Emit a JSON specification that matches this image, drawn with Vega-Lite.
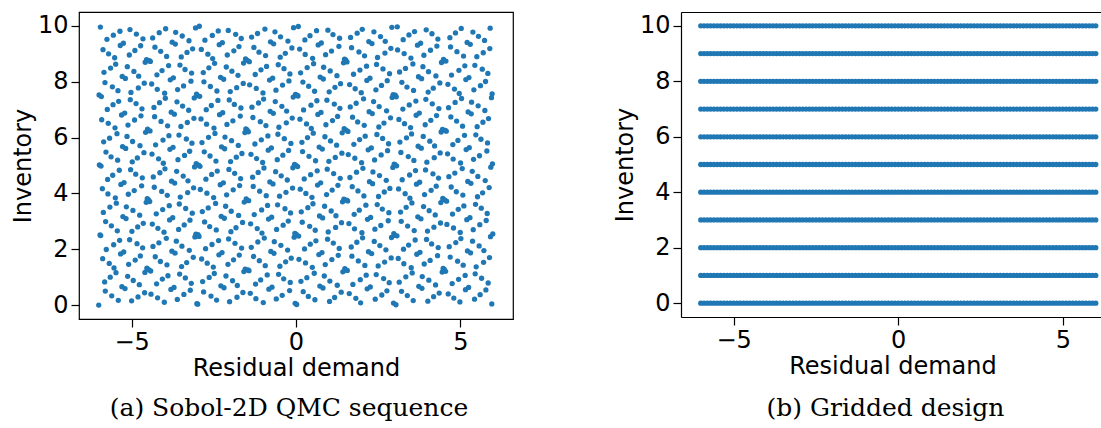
{
"$schema":"https://vega.github.io/schema/vega-lite/v6.json",
"background":"white",
"padding":{"left":10,"top":11,"right":0,"bottom":0},
"spacing":99,
"config":{
"view":{"stroke":"#000","strokeWidth":1.2},
"axis":{"grid":false,"domain":false,"ticks":true,"tickColor":"#000","tickWidth":1.2,"tickSize":8,"labelFont":"DejaVu Sans","labelFontSize":24,"labelColor":"#000","labelPadding":3,"titleFont":"DejaVu Sans","titleFontSize":24,"titleFontWeight":"normal","titleColor":"#000","titlePadding":2},
"title":{"font":"DejaVu Serif","fontSize":25,"fontWeight":"normal","color":"#000","orient":"bottom","anchor":"middle","frame":"group","baseline":"alphabetic","offset":16,"dx":-7}
},
"datasets":{
"sobol":[
{"x":-6,"y":0},{"x":-5.99,"y":7.53},{"x":-5.98,"y":5.02},{"x":-5.96,"y":2.51},{"x":-5.95,"y":9.96},{"x":-5.94,"y":2.49},{"x":-5.93,"y":4.98},{"x":-5.92,"y":7.47},{"x":-5.91,"y":6.64},{"x":-5.89,"y":4.17},{"x":-5.88,"y":1.66},{"x":-5.87,"y":9.15},{"x":-5.86,"y":3.32},{"x":-5.85,"y":5.85},{"x":-5.84,"y":8.34},{"x":-5.82,"y":0.83},{"x":-5.81,"y":7.97},{"x":-5.8,"y":0.5},{"x":-5.79,"y":2.99},{"x":-5.78,"y":5.48},{"x":-5.77,"y":1.99},{"x":-5.75,"y":9.52},{"x":-5.74,"y":7.01},{"x":-5.73,"y":4.5},{"x":-5.72,"y":3.98},{"x":-5.71,"y":6.51},{"x":-5.7,"y":9},{"x":-5.68,"y":1.49},{"x":-5.67,"y":5.98},{"x":-5.66,"y":3.51},{"x":-5.65,"y":1},{"x":-5.64,"y":8.49},
{"x":-5.625,"y":5.31},{"x":-5.615,"y":2.84},{"x":-5.605,"y":0.33},{"x":-5.585,"y":7.82},{"x":-5.575,"y":4.65},{"x":-5.565,"y":7.18},{"x":-5.555,"y":9.67},{"x":-5.545,"y":2.16},{"x":-5.535,"y":1.33},{"x":-5.515,"y":8.86},{"x":-5.505,"y":6.35},{"x":-5.495,"y":3.84},{"x":-5.485,"y":8.63},{"x":-5.475,"y":1.16},{"x":-5.465,"y":3.65},{"x":-5.445,"y":6.14},{"x":-5.435,"y":2.66},{"x":-5.425,"y":5.19},{"x":-5.415,"y":7.68},{"x":-5.405,"y":0.17},{"x":-5.395,"y":7.3},{"x":-5.375,"y":4.83},{"x":-5.365,"y":2.32},{"x":-5.355,"y":9.81},{"x":-5.345,"y":9.3},{"x":-5.335,"y":1.83},{"x":-5.325,"y":4.32},{"x":-5.305,"y":6.81},{"x":-5.295,"y":0.66},{"x":-5.285,"y":8.19},{"x":-5.275,"y":5.68},{"x":-5.265,"y":3.17},
{"x":-5.25,"y":9.38},{"x":-5.24,"y":1.9},{"x":-5.23,"y":4.39},{"x":-5.21,"y":6.88},{"x":-5.2,"y":0.59},{"x":-5.19,"y":8.12},{"x":-5.18,"y":5.61},{"x":-5.17,"y":3.1},{"x":-5.16,"y":3.52},{"x":-5.14,"y":6.04},{"x":-5.13,"y":8.54},{"x":-5.12,"y":1.03},{"x":-5.11,"y":6.45},{"x":-5.1,"y":3.97},{"x":-5.09,"y":1.46},{"x":-5.07,"y":8.96},{"x":-5.06,"y":2.34},{"x":-5.05,"y":9.87},{"x":-5.04,"y":7.36},{"x":-5.03,"y":4.85},{"x":-5.02,"y":7.62},{"x":-5,"y":0.15},{"x":-4.99,"y":2.64},{"x":-4.98,"y":5.13},{"x":-4.97,"y":5.86},{"x":-4.96,"y":3.39},{"x":-4.95,"y":0.88},{"x":-4.93,"y":8.37},{"x":-4.92,"y":4.1},{"x":-4.91,"y":6.63},{"x":-4.9,"y":9.12},{"x":-4.89,"y":1.61},
{"x":-4.875,"y":4.69},{"x":-4.865,"y":7.22},{"x":-4.855,"y":9.71},{"x":-4.835,"y":2.2},{"x":-4.825,"y":5.27},{"x":-4.815,"y":2.8},{"x":-4.805,"y":0.29},{"x":-4.795,"y":7.78},{"x":-4.785,"y":8.2},{"x":-4.765,"y":0.73},{"x":-4.755,"y":3.22},{"x":-4.745,"y":5.71},{"x":-4.735,"y":1.76},{"x":-4.725,"y":9.29},{"x":-4.715,"y":6.78},{"x":-4.695,"y":4.27},{"x":-4.685,"y":7.03},{"x":-4.675,"y":4.56},{"x":-4.665,"y":2.05},{"x":-4.655,"y":9.54},{"x":-4.645,"y":2.93},{"x":-4.625,"y":5.46},{"x":-4.615,"y":7.95},{"x":-4.605,"y":0.44},{"x":-4.595,"y":1.17},{"x":-4.585,"y":8.7},{"x":-4.575,"y":6.19},{"x":-4.555,"y":3.68},{"x":-4.545,"y":8.79},{"x":-4.535,"y":1.32},{"x":-4.525,"y":3.81},{"x":-4.515,"y":6.3},
{"x":-4.5,"y":6.25},{"x":-4.49,"y":3.78},{"x":-4.48,"y":1.27},{"x":-4.46,"y":8.76},{"x":-4.45,"y":3.71},{"x":-4.44,"y":6.24},{"x":-4.43,"y":8.73},{"x":-4.42,"y":1.22},{"x":-4.41,"y":0.39},{"x":-4.39,"y":7.92},{"x":-4.38,"y":5.41},{"x":-4.37,"y":2.9},{"x":-4.36,"y":9.57},{"x":-4.35,"y":2.1},{"x":-4.34,"y":4.59},{"x":-4.32,"y":7.08},{"x":-4.31,"y":4.22},{"x":-4.3,"y":6.75},{"x":-4.29,"y":9.24},{"x":-4.28,"y":1.73},{"x":-4.27,"y":5.74},{"x":-4.25,"y":3.27},{"x":-4.24,"y":0.76},{"x":-4.23,"y":8.25},{"x":-4.22,"y":7.73},{"x":-4.21,"y":0.26},{"x":-4.2,"y":2.75},{"x":-4.18,"y":5.24},{"x":-4.17,"y":2.23},{"x":-4.16,"y":9.76},{"x":-4.15,"y":7.25},{"x":-4.14,"y":4.74},
{"x":-4.125,"y":1.56},{"x":-4.115,"y":9.09},{"x":-4.105,"y":6.58},{"x":-4.085,"y":4.07},{"x":-4.075,"y":8.4},{"x":-4.065,"y":0.93},{"x":-4.055,"y":3.42},{"x":-4.045,"y":5.91},{"x":-4.035,"y":5.08},{"x":-4.015,"y":2.61},{"x":-4.005,"y":0.1},{"x":-3.995,"y":7.59},{"x":-3.985,"y":4.88},{"x":-3.975,"y":7.41},{"x":-3.965,"y":9.9},{"x":-3.945,"y":2.39},{"x":-3.935,"y":8.91},{"x":-3.925,"y":1.44},{"x":-3.915,"y":3.93},{"x":-3.905,"y":6.42},{"x":-3.895,"y":1.05},{"x":-3.875,"y":8.58},{"x":-3.865,"y":6.07},{"x":-3.855,"y":3.56},{"x":-3.845,"y":3.05},{"x":-3.835,"y":5.58},{"x":-3.825,"y":8.07},{"x":-3.805,"y":0.56},{"x":-3.795,"y":6.91},{"x":-3.785,"y":4.44},{"x":-3.775,"y":1.93},{"x":-3.765,"y":9.42},
{"x":-3.75,"y":3.13},{"x":-3.74,"y":5.65},{"x":-3.73,"y":8.14},{"x":-3.71,"y":0.63},{"x":-3.7,"y":6.84},{"x":-3.69,"y":4.37},{"x":-3.68,"y":1.86},{"x":-3.67,"y":9.35},{"x":-3.66,"y":9.77},{"x":-3.64,"y":2.29},{"x":-3.63,"y":4.79},{"x":-3.62,"y":7.28},{"x":-3.61,"y":0.2},{"x":-3.6,"y":7.72},{"x":-3.59,"y":5.21},{"x":-3.57,"y":2.71},{"x":-3.56,"y":6.09},{"x":-3.55,"y":3.62},{"x":-3.54,"y":1.11},{"x":-3.53,"y":8.6},{"x":-3.52,"y":3.87},{"x":-3.5,"y":6.4},{"x":-3.49,"y":8.89},{"x":-3.48,"y":1.38},{"x":-3.47,"y":2.11},{"x":-3.46,"y":9.64},{"x":-3.45,"y":7.13},{"x":-3.43,"y":4.62},{"x":-3.42,"y":7.85},{"x":-3.41,"y":0.38},{"x":-3.4,"y":2.87},{"x":-3.39,"y":5.36},
{"x":-3.375,"y":8.44},{"x":-3.365,"y":0.97},{"x":-3.355,"y":3.46},{"x":-3.335,"y":5.95},{"x":-3.325,"y":1.52},{"x":-3.315,"y":9.05},{"x":-3.305,"y":6.54},{"x":-3.295,"y":4.03},{"x":-3.285,"y":4.45},{"x":-3.265,"y":6.98},{"x":-3.255,"y":9.47},{"x":-3.245,"y":1.96},{"x":-3.235,"y":5.51},{"x":-3.225,"y":3.04},{"x":-3.215,"y":0.53},{"x":-3.195,"y":8.02},{"x":-3.185,"y":0.78},{"x":-3.175,"y":8.31},{"x":-3.165,"y":5.8},{"x":-3.155,"y":3.29},{"x":-3.145,"y":9.18},{"x":-3.125,"y":1.71},{"x":-3.115,"y":4.2},{"x":-3.105,"y":6.69},{"x":-3.095,"y":7.42},{"x":-3.085,"y":4.95},{"x":-3.075,"y":2.44},{"x":-3.055,"y":9.93},{"x":-3.045,"y":2.54},{"x":-3.035,"y":5.07},{"x":-3.025,"y":7.56},{"x":-3.015,"y":0.05},
{"x":-3,"y":7.5},{"x":-2.99,"y":0.03},{"x":-2.98,"y":2.52},{"x":-2.96,"y":5.01},{"x":-2.95,"y":2.46},{"x":-2.94,"y":9.99},{"x":-2.93,"y":7.48},{"x":-2.92,"y":4.97},{"x":-2.91,"y":4.14},{"x":-2.89,"y":6.67},{"x":-2.88,"y":9.16},{"x":-2.87,"y":1.65},{"x":-2.86,"y":5.82},{"x":-2.85,"y":3.35},{"x":-2.84,"y":0.84},{"x":-2.82,"y":8.33},{"x":-2.81,"y":0.47},{"x":-2.8,"y":8},{"x":-2.79,"y":5.49},{"x":-2.78,"y":2.98},{"x":-2.77,"y":9.49},{"x":-2.75,"y":2.02},{"x":-2.74,"y":4.51},{"x":-2.73,"y":7},{"x":-2.72,"y":6.48},{"x":-2.71,"y":4.01},{"x":-2.7,"y":1.5},{"x":-2.68,"y":8.99},{"x":-2.67,"y":3.48},{"x":-2.66,"y":6.01},{"x":-2.65,"y":8.5},{"x":-2.64,"y":0.99},
{"x":-2.625,"y":2.81},{"x":-2.615,"y":5.34},{"x":-2.605,"y":7.83},{"x":-2.585,"y":0.32},{"x":-2.575,"y":7.15},{"x":-2.565,"y":4.68},{"x":-2.555,"y":2.17},{"x":-2.545,"y":9.66},{"x":-2.535,"y":8.83},{"x":-2.515,"y":1.36},{"x":-2.505,"y":3.85},{"x":-2.495,"y":6.34},{"x":-2.485,"y":1.13},{"x":-2.475,"y":8.66},{"x":-2.465,"y":6.15},{"x":-2.445,"y":3.64},{"x":-2.435,"y":5.16},{"x":-2.425,"y":2.69},{"x":-2.415,"y":0.18},{"x":-2.405,"y":7.67},{"x":-2.395,"y":4.8},{"x":-2.375,"y":7.33},{"x":-2.365,"y":9.82},{"x":-2.355,"y":2.31},{"x":-2.345,"y":1.8},{"x":-2.335,"y":9.33},{"x":-2.325,"y":6.82},{"x":-2.305,"y":4.31},{"x":-2.295,"y":8.16},{"x":-2.285,"y":0.69},{"x":-2.275,"y":3.18},{"x":-2.265,"y":5.67},
{"x":-2.25,"y":1.88},{"x":-2.24,"y":9.4},{"x":-2.23,"y":6.89},{"x":-2.21,"y":4.38},{"x":-2.2,"y":8.09},{"x":-2.19,"y":0.62},{"x":-2.18,"y":3.11},{"x":-2.17,"y":5.6},{"x":-2.16,"y":6.02},{"x":-2.14,"y":3.54},{"x":-2.13,"y":1.04},{"x":-2.12,"y":8.53},{"x":-2.11,"y":3.95},{"x":-2.1,"y":6.47},{"x":-2.09,"y":8.96},{"x":-2.07,"y":1.46},{"x":-2.06,"y":9.84},{"x":-2.05,"y":2.37},{"x":-2.04,"y":4.86},{"x":-2.03,"y":7.35},{"x":-2.02,"y":0.12},{"x":-2,"y":7.65},{"x":-1.99,"y":5.14},{"x":-1.98,"y":2.63},{"x":-1.97,"y":3.36},{"x":-1.96,"y":5.89},{"x":-1.95,"y":8.38},{"x":-1.93,"y":0.87},{"x":-1.92,"y":6.6},{"x":-1.91,"y":4.13},{"x":-1.9,"y":1.62},{"x":-1.89,"y":9.11},
{"x":-1.875,"y":7.19},{"x":-1.865,"y":4.72},{"x":-1.855,"y":2.21},{"x":-1.835,"y":9.7},{"x":-1.825,"y":2.77},{"x":-1.815,"y":5.3},{"x":-1.805,"y":7.79},{"x":-1.795,"y":0.28},{"x":-1.785,"y":0.7},{"x":-1.765,"y":8.23},{"x":-1.755,"y":5.72},{"x":-1.745,"y":3.21},{"x":-1.735,"y":9.26},{"x":-1.725,"y":1.79},{"x":-1.715,"y":4.28},{"x":-1.695,"y":6.77},{"x":-1.685,"y":4.53},{"x":-1.675,"y":7.06},{"x":-1.665,"y":9.55},{"x":-1.655,"y":2.04},{"x":-1.645,"y":5.43},{"x":-1.625,"y":2.96},{"x":-1.615,"y":0.45},{"x":-1.605,"y":7.94},{"x":-1.595,"y":8.67},{"x":-1.585,"y":1.2},{"x":-1.575,"y":3.69},{"x":-1.555,"y":6.18},{"x":-1.545,"y":1.29},{"x":-1.535,"y":8.82},{"x":-1.525,"y":6.31},{"x":-1.515,"y":3.8},
{"x":-1.5,"y":3.75},{"x":-1.49,"y":6.28},{"x":-1.48,"y":8.77},{"x":-1.46,"y":1.26},{"x":-1.45,"y":6.21},{"x":-1.44,"y":3.74},{"x":-1.43,"y":1.23},{"x":-1.42,"y":8.72},{"x":-1.41,"y":7.89},{"x":-1.39,"y":0.42},{"x":-1.38,"y":2.91},{"x":-1.37,"y":5.4},{"x":-1.36,"y":2.07},{"x":-1.35,"y":9.6},{"x":-1.34,"y":7.09},{"x":-1.32,"y":4.58},{"x":-1.31,"y":6.72},{"x":-1.3,"y":4.25},{"x":-1.29,"y":1.74},{"x":-1.28,"y":9.23},{"x":-1.27,"y":3.24},{"x":-1.25,"y":5.77},{"x":-1.24,"y":8.26},{"x":-1.23,"y":0.75},{"x":-1.22,"y":0.23},{"x":-1.21,"y":7.76},{"x":-1.2,"y":5.25},{"x":-1.18,"y":2.74},{"x":-1.17,"y":9.73},{"x":-1.16,"y":2.26},{"x":-1.15,"y":4.75},{"x":-1.14,"y":7.24},
{"x":-1.125,"y":9.06},{"x":-1.115,"y":1.59},{"x":-1.105,"y":4.08},{"x":-1.085,"y":6.57},{"x":-1.075,"y":0.9},{"x":-1.065,"y":8.43},{"x":-1.055,"y":5.92},{"x":-1.045,"y":3.41},{"x":-1.035,"y":2.58},{"x":-1.015,"y":5.11},{"x":-1.005,"y":7.6},{"x":-0.995,"y":0.09},{"x":-0.985,"y":7.38},{"x":-0.975,"y":4.91},{"x":-0.965,"y":2.4},{"x":-0.945,"y":9.89},{"x":-0.935,"y":1.41},{"x":-0.925,"y":8.94},{"x":-0.915,"y":6.43},{"x":-0.905,"y":3.92},{"x":-0.895,"y":8.55},{"x":-0.875,"y":1.08},{"x":-0.865,"y":3.57},{"x":-0.855,"y":6.06},{"x":-0.845,"y":5.55},{"x":-0.835,"y":3.08},{"x":-0.825,"y":0.57},{"x":-0.805,"y":8.06},{"x":-0.795,"y":4.41},{"x":-0.785,"y":6.94},{"x":-0.775,"y":9.43},{"x":-0.765,"y":1.92},
{"x":-0.75,"y":5.63},{"x":-0.74,"y":3.15},{"x":-0.73,"y":0.64},{"x":-0.71,"y":8.13},{"x":-0.7,"y":4.34},{"x":-0.69,"y":6.87},{"x":-0.68,"y":9.36},{"x":-0.67,"y":1.85},{"x":-0.66,"y":2.27},{"x":-0.64,"y":9.79},{"x":-0.63,"y":7.29},{"x":-0.62,"y":4.78},{"x":-0.61,"y":7.7},{"x":-0.6,"y":0.22},{"x":-0.59,"y":2.71},{"x":-0.57,"y":5.21},{"x":-0.56,"y":3.59},{"x":-0.55,"y":6.12},{"x":-0.54,"y":8.61},{"x":-0.53,"y":1.1},{"x":-0.52,"y":6.37},{"x":-0.5,"y":3.9},{"x":-0.49,"y":1.39},{"x":-0.48,"y":8.88},{"x":-0.47,"y":9.61},{"x":-0.46,"y":2.14},{"x":-0.45,"y":4.63},{"x":-0.43,"y":7.12},{"x":-0.42,"y":0.35},{"x":-0.41,"y":7.88},{"x":-0.4,"y":5.37},{"x":-0.39,"y":2.86},
{"x":-0.375,"y":0.94},{"x":-0.365,"y":8.47},{"x":-0.355,"y":5.96},{"x":-0.335,"y":3.45},{"x":-0.325,"y":9.02},{"x":-0.315,"y":1.55},{"x":-0.305,"y":4.04},{"x":-0.295,"y":6.53},{"x":-0.285,"y":6.95},{"x":-0.265,"y":4.48},{"x":-0.255,"y":1.97},{"x":-0.245,"y":9.46},{"x":-0.235,"y":3.01},{"x":-0.225,"y":5.54},{"x":-0.215,"y":8.03},{"x":-0.195,"y":0.52},{"x":-0.185,"y":8.28},{"x":-0.175,"y":0.81},{"x":-0.165,"y":3.3},{"x":-0.155,"y":5.79},{"x":-0.145,"y":1.68},{"x":-0.125,"y":9.21},{"x":-0.115,"y":6.7},{"x":-0.105,"y":4.19},{"x":-0.095,"y":4.92},{"x":-0.085,"y":7.45},{"x":-0.075,"y":9.94},{"x":-0.055,"y":2.43},{"x":-0.045,"y":5.04},{"x":-0.035,"y":2.57},{"x":-0.025,"y":0.06},{"x":-0.015,"y":7.55},
{"x":0,"y":5},{"x":0.01,"y":2.53},{"x":0.02,"y":0.02},{"x":0.04,"y":7.51},{"x":0.05,"y":4.96},{"x":0.06,"y":7.49},{"x":0.07,"y":9.98},{"x":0.08,"y":2.47},{"x":0.09,"y":1.64},{"x":0.11,"y":9.17},{"x":0.12,"y":6.66},{"x":0.13,"y":4.15},{"x":0.14,"y":8.32},{"x":0.15,"y":0.85},{"x":0.16,"y":3.34},{"x":0.18,"y":5.83},{"x":0.19,"y":2.97},{"x":0.2,"y":5.5},{"x":0.21,"y":7.99},{"x":0.22,"y":0.48},{"x":0.23,"y":6.99},{"x":0.25,"y":4.52},{"x":0.26,"y":2.01},{"x":0.27,"y":9.5},{"x":0.28,"y":8.98},{"x":0.29,"y":1.51},{"x":0.3,"y":4},{"x":0.32,"y":6.49},{"x":0.33,"y":0.98},{"x":0.34,"y":8.51},{"x":0.35,"y":6},{"x":0.36,"y":3.49},
{"x":0.375,"y":0.31},{"x":0.385,"y":7.84},{"x":0.395,"y":5.33},{"x":0.415,"y":2.82},{"x":0.425,"y":9.65},{"x":0.435,"y":2.18},{"x":0.445,"y":4.67},{"x":0.455,"y":7.16},{"x":0.465,"y":6.33},{"x":0.485,"y":3.86},{"x":0.495,"y":1.35},{"x":0.505,"y":8.84},{"x":0.515,"y":3.63},{"x":0.525,"y":6.16},{"x":0.535,"y":8.65},{"x":0.555,"y":1.14},{"x":0.565,"y":7.66},{"x":0.575,"y":0.19},{"x":0.585,"y":2.68},{"x":0.595,"y":5.17},{"x":0.605,"y":2.3},{"x":0.625,"y":9.83},{"x":0.635,"y":7.32},{"x":0.645,"y":4.81},{"x":0.655,"y":4.3},{"x":0.665,"y":6.83},{"x":0.675,"y":9.32},{"x":0.695,"y":1.81},{"x":0.705,"y":5.66},{"x":0.715,"y":3.19},{"x":0.725,"y":0.68},{"x":0.735,"y":8.17},
{"x":0.75,"y":4.38},{"x":0.76,"y":6.9},{"x":0.77,"y":9.39},{"x":0.79,"y":1.88},{"x":0.8,"y":5.59},{"x":0.81,"y":3.12},{"x":0.82,"y":0.61},{"x":0.83,"y":8.1},{"x":0.84,"y":8.52},{"x":0.86,"y":1.04},{"x":0.87,"y":3.54},{"x":0.88,"y":6.03},{"x":0.89,"y":1.45},{"x":0.9,"y":8.97},{"x":0.91,"y":6.46},{"x":0.93,"y":3.96},{"x":0.94,"y":7.34},{"x":0.95,"y":4.87},{"x":0.96,"y":2.36},{"x":0.97,"y":9.85},{"x":0.98,"y":2.62},{"x":1,"y":5.15},{"x":1.01,"y":7.64},{"x":1.02,"y":0.13},{"x":1.03,"y":0.86},{"x":1.04,"y":8.39},{"x":1.05,"y":5.88},{"x":1.07,"y":3.37},{"x":1.08,"y":9.1},{"x":1.09,"y":1.63},{"x":1.1,"y":4.12},{"x":1.11,"y":6.61},
{"x":1.125,"y":9.69},{"x":1.135,"y":2.22},{"x":1.145,"y":4.71},{"x":1.165,"y":7.2},{"x":1.175,"y":0.27},{"x":1.185,"y":7.8},{"x":1.195,"y":5.29},{"x":1.205,"y":2.78},{"x":1.215,"y":3.2},{"x":1.235,"y":5.73},{"x":1.245,"y":8.22},{"x":1.255,"y":0.71},{"x":1.265,"y":6.76},{"x":1.275,"y":4.29},{"x":1.285,"y":1.78},{"x":1.305,"y":9.27},{"x":1.315,"y":2.03},{"x":1.325,"y":9.56},{"x":1.335,"y":7.05},{"x":1.345,"y":4.54},{"x":1.355,"y":7.93},{"x":1.375,"y":0.46},{"x":1.385,"y":2.95},{"x":1.395,"y":5.44},{"x":1.405,"y":6.17},{"x":1.415,"y":3.7},{"x":1.425,"y":1.19},{"x":1.445,"y":8.68},{"x":1.455,"y":3.79},{"x":1.465,"y":6.32},{"x":1.475,"y":8.81},{"x":1.485,"y":1.3},
{"x":1.5,"y":1.25},{"x":1.51,"y":8.78},{"x":1.52,"y":6.27},{"x":1.54,"y":3.76},{"x":1.55,"y":8.71},{"x":1.56,"y":1.24},{"x":1.57,"y":3.73},{"x":1.58,"y":6.22},{"x":1.59,"y":5.39},{"x":1.61,"y":2.92},{"x":1.62,"y":0.41},{"x":1.63,"y":7.9},{"x":1.64,"y":4.57},{"x":1.65,"y":7.1},{"x":1.66,"y":9.59},{"x":1.68,"y":2.08},{"x":1.69,"y":9.22},{"x":1.7,"y":1.75},{"x":1.71,"y":4.24},{"x":1.72,"y":6.73},{"x":1.73,"y":0.74},{"x":1.75,"y":8.27},{"x":1.76,"y":5.76},{"x":1.77,"y":3.25},{"x":1.78,"y":2.73},{"x":1.79,"y":5.26},{"x":1.8,"y":7.75},{"x":1.82,"y":0.24},{"x":1.83,"y":7.23},{"x":1.84,"y":4.76},{"x":1.85,"y":2.25},{"x":1.86,"y":9.74},
{"x":1.875,"y":6.56},{"x":1.885,"y":4.09},{"x":1.895,"y":1.58},{"x":1.915,"y":9.07},{"x":1.925,"y":3.4},{"x":1.935,"y":5.93},{"x":1.945,"y":8.42},{"x":1.955,"y":0.91},{"x":1.965,"y":0.08},{"x":1.985,"y":7.61},{"x":1.995,"y":5.1},{"x":2.005,"y":2.59},{"x":2.015,"y":9.88},{"x":2.025,"y":2.41},{"x":2.035,"y":4.9},{"x":2.055,"y":7.39},{"x":2.065,"y":3.91},{"x":2.075,"y":6.44},{"x":2.085,"y":8.93},{"x":2.095,"y":1.42},{"x":2.105,"y":6.05},{"x":2.125,"y":3.58},{"x":2.135,"y":1.07},{"x":2.145,"y":8.56},{"x":2.155,"y":8.05},{"x":2.165,"y":0.58},{"x":2.175,"y":3.07},{"x":2.195,"y":5.56},{"x":2.205,"y":1.91},{"x":2.215,"y":9.44},{"x":2.225,"y":6.93},{"x":2.235,"y":4.42},
{"x":2.25,"y":8.13},{"x":2.26,"y":0.65},{"x":2.27,"y":3.14},{"x":2.29,"y":5.63},{"x":2.3,"y":1.84},{"x":2.31,"y":9.37},{"x":2.32,"y":6.86},{"x":2.33,"y":4.35},{"x":2.34,"y":4.77},{"x":2.36,"y":7.29},{"x":2.37,"y":9.79},{"x":2.38,"y":2.28},{"x":2.39,"y":5.2},{"x":2.4,"y":2.72},{"x":2.41,"y":0.21},{"x":2.43,"y":7.71},{"x":2.44,"y":1.09},{"x":2.45,"y":8.62},{"x":2.46,"y":6.11},{"x":2.47,"y":3.6},{"x":2.48,"y":8.87},{"x":2.5,"y":1.4},{"x":2.51,"y":3.89},{"x":2.52,"y":6.38},{"x":2.53,"y":7.11},{"x":2.54,"y":4.64},{"x":2.55,"y":2.13},{"x":2.57,"y":9.62},{"x":2.58,"y":2.85},{"x":2.59,"y":5.38},{"x":2.6,"y":7.87},{"x":2.61,"y":0.36},
{"x":2.625,"y":3.44},{"x":2.635,"y":5.97},{"x":2.645,"y":8.46},{"x":2.665,"y":0.95},{"x":2.675,"y":6.52},{"x":2.685,"y":4.05},{"x":2.695,"y":1.54},{"x":2.705,"y":9.03},{"x":2.715,"y":9.45},{"x":2.735,"y":1.98},{"x":2.745,"y":4.47},{"x":2.755,"y":6.96},{"x":2.765,"y":0.51},{"x":2.775,"y":8.04},{"x":2.785,"y":5.53},{"x":2.805,"y":3.02},{"x":2.815,"y":5.78},{"x":2.825,"y":3.31},{"x":2.835,"y":0.8},{"x":2.845,"y":8.29},{"x":2.855,"y":4.18},{"x":2.875,"y":6.71},{"x":2.885,"y":9.2},{"x":2.895,"y":1.69},{"x":2.905,"y":2.42},{"x":2.915,"y":9.95},{"x":2.925,"y":7.44},{"x":2.945,"y":4.93},{"x":2.955,"y":7.54},{"x":2.965,"y":0.07},{"x":2.975,"y":2.56},{"x":2.985,"y":5.05},
{"x":3,"y":2.5},{"x":3.01,"y":5.03},{"x":3.02,"y":7.52},{"x":3.04,"y":0.01},{"x":3.05,"y":7.46},{"x":3.06,"y":4.99},{"x":3.07,"y":2.48},{"x":3.08,"y":9.97},{"x":3.09,"y":9.14},{"x":3.11,"y":1.67},{"x":3.12,"y":4.16},{"x":3.13,"y":6.65},{"x":3.14,"y":0.82},{"x":3.15,"y":8.35},{"x":3.16,"y":5.84},{"x":3.18,"y":3.33},{"x":3.19,"y":5.47},{"x":3.2,"y":3},{"x":3.21,"y":0.49},{"x":3.22,"y":7.98},{"x":3.23,"y":4.49},{"x":3.25,"y":7.02},{"x":3.26,"y":9.51},{"x":3.27,"y":2},{"x":3.28,"y":1.48},{"x":3.29,"y":9.01},{"x":3.3,"y":6.5},{"x":3.32,"y":3.99},{"x":3.33,"y":8.48},{"x":3.34,"y":1.01},{"x":3.35,"y":3.5},{"x":3.36,"y":5.99},
{"x":3.375,"y":7.81},{"x":3.385,"y":0.34},{"x":3.395,"y":2.83},{"x":3.415,"y":5.32},{"x":3.425,"y":2.15},{"x":3.435,"y":9.68},{"x":3.445,"y":7.17},{"x":3.455,"y":4.66},{"x":3.465,"y":3.83},{"x":3.485,"y":6.36},{"x":3.495,"y":8.85},{"x":3.505,"y":1.34},{"x":3.515,"y":6.13},{"x":3.525,"y":3.66},{"x":3.535,"y":1.15},{"x":3.555,"y":8.64},{"x":3.565,"y":0.16},{"x":3.575,"y":7.69},{"x":3.585,"y":5.18},{"x":3.595,"y":2.67},{"x":3.605,"y":9.8},{"x":3.625,"y":2.33},{"x":3.635,"y":4.82},{"x":3.645,"y":7.31},{"x":3.655,"y":6.8},{"x":3.665,"y":4.33},{"x":3.675,"y":1.82},{"x":3.695,"y":9.31},{"x":3.705,"y":3.16},{"x":3.715,"y":5.69},{"x":3.725,"y":8.18},{"x":3.735,"y":0.67},
{"x":3.75,"y":6.88},{"x":3.76,"y":4.4},{"x":3.77,"y":1.89},{"x":3.79,"y":9.38},{"x":3.8,"y":3.09},{"x":3.81,"y":5.62},{"x":3.82,"y":8.11},{"x":3.83,"y":0.6},{"x":3.84,"y":1.02},{"x":3.86,"y":8.54},{"x":3.87,"y":6.04},{"x":3.88,"y":3.53},{"x":3.89,"y":8.95},{"x":3.9,"y":1.47},{"x":3.91,"y":3.96},{"x":3.93,"y":6.46},{"x":3.94,"y":4.84},{"x":3.95,"y":7.37},{"x":3.96,"y":9.86},{"x":3.97,"y":2.35},{"x":3.98,"y":5.12},{"x":4,"y":2.65},{"x":4.01,"y":0.14},{"x":4.02,"y":7.63},{"x":4.03,"y":8.36},{"x":4.04,"y":0.89},{"x":4.05,"y":3.38},{"x":4.07,"y":5.87},{"x":4.08,"y":1.6},{"x":4.09,"y":9.13},{"x":4.1,"y":6.62},{"x":4.11,"y":4.11},
{"x":4.125,"y":2.19},{"x":4.135,"y":9.72},{"x":4.145,"y":7.21},{"x":4.165,"y":4.7},{"x":4.175,"y":7.77},{"x":4.185,"y":0.3},{"x":4.195,"y":2.79},{"x":4.205,"y":5.28},{"x":4.215,"y":5.7},{"x":4.235,"y":3.23},{"x":4.245,"y":0.72},{"x":4.255,"y":8.21},{"x":4.265,"y":4.26},{"x":4.275,"y":6.79},{"x":4.285,"y":9.28},{"x":4.305,"y":1.77},{"x":4.315,"y":9.53},{"x":4.325,"y":2.06},{"x":4.335,"y":4.55},{"x":4.345,"y":7.04},{"x":4.355,"y":0.43},{"x":4.375,"y":7.96},{"x":4.385,"y":5.45},{"x":4.395,"y":2.94},{"x":4.405,"y":3.67},{"x":4.415,"y":6.2},{"x":4.425,"y":8.69},{"x":4.445,"y":1.18},{"x":4.455,"y":6.29},{"x":4.465,"y":3.82},{"x":4.475,"y":1.31},{"x":4.485,"y":8.8},
{"x":4.5,"y":8.75},{"x":4.51,"y":1.28},{"x":4.52,"y":3.77},{"x":4.54,"y":6.26},{"x":4.55,"y":1.21},{"x":4.56,"y":8.74},{"x":4.57,"y":6.23},{"x":4.58,"y":3.72},{"x":4.59,"y":2.89},{"x":4.61,"y":5.42},{"x":4.62,"y":7.91},{"x":4.63,"y":0.4},{"x":4.64,"y":7.07},{"x":4.65,"y":4.6},{"x":4.66,"y":2.09},{"x":4.68,"y":9.58},{"x":4.69,"y":1.72},{"x":4.7,"y":9.25},{"x":4.71,"y":6.74},{"x":4.72,"y":4.23},{"x":4.73,"y":8.24},{"x":4.75,"y":0.77},{"x":4.76,"y":3.26},{"x":4.77,"y":5.75},{"x":4.78,"y":5.23},{"x":4.79,"y":2.76},{"x":4.8,"y":0.25},{"x":4.82,"y":7.74},{"x":4.83,"y":4.73},{"x":4.84,"y":7.26},{"x":4.85,"y":9.75},{"x":4.86,"y":2.24},
{"x":4.875,"y":4.06},{"x":4.885,"y":6.59},{"x":4.895,"y":9.08},{"x":4.915,"y":1.57},{"x":4.925,"y":5.9},{"x":4.935,"y":3.43},{"x":4.945,"y":0.92},{"x":4.955,"y":8.41},{"x":4.965,"y":7.58},{"x":4.985,"y":0.11},{"x":4.995,"y":2.6},{"x":5.005,"y":5.09},{"x":5.015,"y":2.38},{"x":5.025,"y":9.91},{"x":5.035,"y":7.4},{"x":5.055,"y":4.89},{"x":5.065,"y":6.41},{"x":5.075,"y":3.94},{"x":5.085,"y":1.43},{"x":5.095,"y":8.92},{"x":5.105,"y":3.55},{"x":5.125,"y":6.08},{"x":5.135,"y":8.57},{"x":5.145,"y":1.06},{"x":5.155,"y":0.55},{"x":5.165,"y":8.08},{"x":5.175,"y":5.57},{"x":5.195,"y":3.06},{"x":5.205,"y":9.41},{"x":5.215,"y":1.94},{"x":5.225,"y":4.43},{"x":5.235,"y":6.92},
{"x":5.25,"y":0.63},{"x":5.26,"y":8.15},{"x":5.27,"y":5.64},{"x":5.29,"y":3.13},{"x":5.3,"y":9.34},{"x":5.31,"y":1.87},{"x":5.32,"y":4.36},{"x":5.33,"y":6.85},{"x":5.34,"y":7.27},{"x":5.36,"y":4.79},{"x":5.37,"y":2.29},{"x":5.38,"y":9.78},{"x":5.39,"y":2.7},{"x":5.4,"y":5.22},{"x":5.41,"y":7.71},{"x":5.43,"y":0.21},{"x":5.44,"y":8.59},{"x":5.45,"y":1.12},{"x":5.46,"y":3.61},{"x":5.47,"y":6.1},{"x":5.48,"y":1.37},{"x":5.5,"y":8.9},{"x":5.51,"y":6.39},{"x":5.52,"y":3.88},{"x":5.53,"y":4.61},{"x":5.54,"y":7.14},{"x":5.55,"y":9.63},{"x":5.57,"y":2.12},{"x":5.58,"y":5.35},{"x":5.59,"y":2.88},{"x":5.6,"y":0.37},{"x":5.61,"y":7.86},
{"x":5.625,"y":5.94},{"x":5.635,"y":3.47},{"x":5.645,"y":0.96},{"x":5.665,"y":8.45},{"x":5.675,"y":4.02},{"x":5.685,"y":6.55},{"x":5.695,"y":9.04},{"x":5.705,"y":1.53},{"x":5.715,"y":1.95},{"x":5.735,"y":9.48},{"x":5.745,"y":6.97},{"x":5.755,"y":4.46},{"x":5.765,"y":8.01},{"x":5.775,"y":0.54},{"x":5.785,"y":3.03},{"x":5.805,"y":5.52},{"x":5.815,"y":3.28},{"x":5.825,"y":5.81},{"x":5.835,"y":8.3},{"x":5.845,"y":0.79},{"x":5.855,"y":6.68},{"x":5.875,"y":4.21},{"x":5.885,"y":1.7},{"x":5.895,"y":9.19},{"x":5.905,"y":9.92},{"x":5.915,"y":2.45},{"x":5.925,"y":4.94},{"x":5.945,"y":7.43},{"x":5.955,"y":0.04},{"x":5.965,"y":7.57},{"x":5.975,"y":5.06},{"x":5.985,"y":2.55}
],
"grid":[
{"x":-6,"y":0},{"x":-5.9,"y":0},{"x":-5.8,"y":0},{"x":-5.7,"y":0},{"x":-5.6,"y":0},{"x":-5.5,"y":0},{"x":-5.4,"y":0},{"x":-5.3,"y":0},{"x":-5.2,"y":0},{"x":-5.1,"y":0},{"x":-5,"y":0},{"x":-4.9,"y":0},{"x":-4.8,"y":0},{"x":-4.7,"y":0},{"x":-4.6,"y":0},{"x":-4.5,"y":0},{"x":-4.4,"y":0},{"x":-4.3,"y":0},{"x":-4.2,"y":0},{"x":-4.1,"y":0},{"x":-4,"y":0},{"x":-3.9,"y":0},{"x":-3.8,"y":0},{"x":-3.7,"y":0},{"x":-3.6,"y":0},{"x":-3.5,"y":0},{"x":-3.4,"y":0},{"x":-3.3,"y":0},{"x":-3.2,"y":0},{"x":-3.1,"y":0},{"x":-3,"y":0},{"x":-2.9,"y":0},{"x":-2.8,"y":0},{"x":-2.7,"y":0},{"x":-2.6,"y":0},{"x":-2.5,"y":0},{"x":-2.4,"y":0},{"x":-2.3,"y":0},{"x":-2.2,"y":0},{"x":-2.1,"y":0},{"x":-2,"y":0},{"x":-1.9,"y":0},{"x":-1.8,"y":0},{"x":-1.7,"y":0},{"x":-1.6,"y":0},{"x":-1.5,"y":0},{"x":-1.4,"y":0},{"x":-1.3,"y":0},{"x":-1.2,"y":0},{"x":-1.1,"y":0},{"x":-1,"y":0},{"x":-0.9,"y":0},{"x":-0.8,"y":0},{"x":-0.7,"y":0},{"x":-0.6,"y":0},{"x":-0.5,"y":0},{"x":-0.4,"y":0},{"x":-0.3,"y":0},{"x":-0.2,"y":0},{"x":-0.1,"y":0},{"x":0,"y":0},{"x":0.1,"y":0},{"x":0.2,"y":0},{"x":0.3,"y":0},{"x":0.4,"y":0},{"x":0.5,"y":0},{"x":0.6,"y":0},{"x":0.7,"y":0},{"x":0.8,"y":0},{"x":0.9,"y":0},{"x":1,"y":0},{"x":1.1,"y":0},{"x":1.2,"y":0},{"x":1.3,"y":0},{"x":1.4,"y":0},{"x":1.5,"y":0},{"x":1.6,"y":0},{"x":1.7,"y":0},{"x":1.8,"y":0},{"x":1.9,"y":0},{"x":2,"y":0},{"x":2.1,"y":0},{"x":2.2,"y":0},{"x":2.3,"y":0},{"x":2.4,"y":0},{"x":2.5,"y":0},{"x":2.6,"y":0},{"x":2.7,"y":0},{"x":2.8,"y":0},{"x":2.9,"y":0},{"x":3,"y":0},{"x":3.1,"y":0},{"x":3.2,"y":0},{"x":3.3,"y":0},{"x":3.4,"y":0},{"x":3.5,"y":0},{"x":3.6,"y":0},{"x":3.7,"y":0},{"x":3.8,"y":0},{"x":3.9,"y":0},{"x":4,"y":0},{"x":4.1,"y":0},{"x":4.2,"y":0},{"x":4.3,"y":0},{"x":4.4,"y":0},{"x":4.5,"y":0},{"x":4.6,"y":0},{"x":4.7,"y":0},{"x":4.8,"y":0},{"x":4.9,"y":0},{"x":5,"y":0},{"x":5.1,"y":0},{"x":5.2,"y":0},{"x":5.3,"y":0},{"x":5.4,"y":0},{"x":5.5,"y":0},{"x":5.6,"y":0},{"x":5.7,"y":0},{"x":5.8,"y":0},{"x":5.9,"y":0},{"x":6,"y":0},
{"x":-6,"y":1},{"x":-5.9,"y":1},{"x":-5.8,"y":1},{"x":-5.7,"y":1},{"x":-5.6,"y":1},{"x":-5.5,"y":1},{"x":-5.4,"y":1},{"x":-5.3,"y":1},{"x":-5.2,"y":1},{"x":-5.1,"y":1},{"x":-5,"y":1},{"x":-4.9,"y":1},{"x":-4.8,"y":1},{"x":-4.7,"y":1},{"x":-4.6,"y":1},{"x":-4.5,"y":1},{"x":-4.4,"y":1},{"x":-4.3,"y":1},{"x":-4.2,"y":1},{"x":-4.1,"y":1},{"x":-4,"y":1},{"x":-3.9,"y":1},{"x":-3.8,"y":1},{"x":-3.7,"y":1},{"x":-3.6,"y":1},{"x":-3.5,"y":1},{"x":-3.4,"y":1},{"x":-3.3,"y":1},{"x":-3.2,"y":1},{"x":-3.1,"y":1},{"x":-3,"y":1},{"x":-2.9,"y":1},{"x":-2.8,"y":1},{"x":-2.7,"y":1},{"x":-2.6,"y":1},{"x":-2.5,"y":1},{"x":-2.4,"y":1},{"x":-2.3,"y":1},{"x":-2.2,"y":1},{"x":-2.1,"y":1},{"x":-2,"y":1},{"x":-1.9,"y":1},{"x":-1.8,"y":1},{"x":-1.7,"y":1},{"x":-1.6,"y":1},{"x":-1.5,"y":1},{"x":-1.4,"y":1},{"x":-1.3,"y":1},{"x":-1.2,"y":1},{"x":-1.1,"y":1},{"x":-1,"y":1},{"x":-0.9,"y":1},{"x":-0.8,"y":1},{"x":-0.7,"y":1},{"x":-0.6,"y":1},{"x":-0.5,"y":1},{"x":-0.4,"y":1},{"x":-0.3,"y":1},{"x":-0.2,"y":1},{"x":-0.1,"y":1},{"x":0,"y":1},{"x":0.1,"y":1},{"x":0.2,"y":1},{"x":0.3,"y":1},{"x":0.4,"y":1},{"x":0.5,"y":1},{"x":0.6,"y":1},{"x":0.7,"y":1},{"x":0.8,"y":1},{"x":0.9,"y":1},{"x":1,"y":1},{"x":1.1,"y":1},{"x":1.2,"y":1},{"x":1.3,"y":1},{"x":1.4,"y":1},{"x":1.5,"y":1},{"x":1.6,"y":1},{"x":1.7,"y":1},{"x":1.8,"y":1},{"x":1.9,"y":1},{"x":2,"y":1},{"x":2.1,"y":1},{"x":2.2,"y":1},{"x":2.3,"y":1},{"x":2.4,"y":1},{"x":2.5,"y":1},{"x":2.6,"y":1},{"x":2.7,"y":1},{"x":2.8,"y":1},{"x":2.9,"y":1},{"x":3,"y":1},{"x":3.1,"y":1},{"x":3.2,"y":1},{"x":3.3,"y":1},{"x":3.4,"y":1},{"x":3.5,"y":1},{"x":3.6,"y":1},{"x":3.7,"y":1},{"x":3.8,"y":1},{"x":3.9,"y":1},{"x":4,"y":1},{"x":4.1,"y":1},{"x":4.2,"y":1},{"x":4.3,"y":1},{"x":4.4,"y":1},{"x":4.5,"y":1},{"x":4.6,"y":1},{"x":4.7,"y":1},{"x":4.8,"y":1},{"x":4.9,"y":1},{"x":5,"y":1},{"x":5.1,"y":1},{"x":5.2,"y":1},{"x":5.3,"y":1},{"x":5.4,"y":1},{"x":5.5,"y":1},{"x":5.6,"y":1},{"x":5.7,"y":1},{"x":5.8,"y":1},{"x":5.9,"y":1},{"x":6,"y":1},
{"x":-6,"y":2},{"x":-5.9,"y":2},{"x":-5.8,"y":2},{"x":-5.7,"y":2},{"x":-5.6,"y":2},{"x":-5.5,"y":2},{"x":-5.4,"y":2},{"x":-5.3,"y":2},{"x":-5.2,"y":2},{"x":-5.1,"y":2},{"x":-5,"y":2},{"x":-4.9,"y":2},{"x":-4.8,"y":2},{"x":-4.7,"y":2},{"x":-4.6,"y":2},{"x":-4.5,"y":2},{"x":-4.4,"y":2},{"x":-4.3,"y":2},{"x":-4.2,"y":2},{"x":-4.1,"y":2},{"x":-4,"y":2},{"x":-3.9,"y":2},{"x":-3.8,"y":2},{"x":-3.7,"y":2},{"x":-3.6,"y":2},{"x":-3.5,"y":2},{"x":-3.4,"y":2},{"x":-3.3,"y":2},{"x":-3.2,"y":2},{"x":-3.1,"y":2},{"x":-3,"y":2},{"x":-2.9,"y":2},{"x":-2.8,"y":2},{"x":-2.7,"y":2},{"x":-2.6,"y":2},{"x":-2.5,"y":2},{"x":-2.4,"y":2},{"x":-2.3,"y":2},{"x":-2.2,"y":2},{"x":-2.1,"y":2},{"x":-2,"y":2},{"x":-1.9,"y":2},{"x":-1.8,"y":2},{"x":-1.7,"y":2},{"x":-1.6,"y":2},{"x":-1.5,"y":2},{"x":-1.4,"y":2},{"x":-1.3,"y":2},{"x":-1.2,"y":2},{"x":-1.1,"y":2},{"x":-1,"y":2},{"x":-0.9,"y":2},{"x":-0.8,"y":2},{"x":-0.7,"y":2},{"x":-0.6,"y":2},{"x":-0.5,"y":2},{"x":-0.4,"y":2},{"x":-0.3,"y":2},{"x":-0.2,"y":2},{"x":-0.1,"y":2},{"x":0,"y":2},{"x":0.1,"y":2},{"x":0.2,"y":2},{"x":0.3,"y":2},{"x":0.4,"y":2},{"x":0.5,"y":2},{"x":0.6,"y":2},{"x":0.7,"y":2},{"x":0.8,"y":2},{"x":0.9,"y":2},{"x":1,"y":2},{"x":1.1,"y":2},{"x":1.2,"y":2},{"x":1.3,"y":2},{"x":1.4,"y":2},{"x":1.5,"y":2},{"x":1.6,"y":2},{"x":1.7,"y":2},{"x":1.8,"y":2},{"x":1.9,"y":2},{"x":2,"y":2},{"x":2.1,"y":2},{"x":2.2,"y":2},{"x":2.3,"y":2},{"x":2.4,"y":2},{"x":2.5,"y":2},{"x":2.6,"y":2},{"x":2.7,"y":2},{"x":2.8,"y":2},{"x":2.9,"y":2},{"x":3,"y":2},{"x":3.1,"y":2},{"x":3.2,"y":2},{"x":3.3,"y":2},{"x":3.4,"y":2},{"x":3.5,"y":2},{"x":3.6,"y":2},{"x":3.7,"y":2},{"x":3.8,"y":2},{"x":3.9,"y":2},{"x":4,"y":2},{"x":4.1,"y":2},{"x":4.2,"y":2},{"x":4.3,"y":2},{"x":4.4,"y":2},{"x":4.5,"y":2},{"x":4.6,"y":2},{"x":4.7,"y":2},{"x":4.8,"y":2},{"x":4.9,"y":2},{"x":5,"y":2},{"x":5.1,"y":2},{"x":5.2,"y":2},{"x":5.3,"y":2},{"x":5.4,"y":2},{"x":5.5,"y":2},{"x":5.6,"y":2},{"x":5.7,"y":2},{"x":5.8,"y":2},{"x":5.9,"y":2},{"x":6,"y":2},
{"x":-6,"y":3},{"x":-5.9,"y":3},{"x":-5.8,"y":3},{"x":-5.7,"y":3},{"x":-5.6,"y":3},{"x":-5.5,"y":3},{"x":-5.4,"y":3},{"x":-5.3,"y":3},{"x":-5.2,"y":3},{"x":-5.1,"y":3},{"x":-5,"y":3},{"x":-4.9,"y":3},{"x":-4.8,"y":3},{"x":-4.7,"y":3},{"x":-4.6,"y":3},{"x":-4.5,"y":3},{"x":-4.4,"y":3},{"x":-4.3,"y":3},{"x":-4.2,"y":3},{"x":-4.1,"y":3},{"x":-4,"y":3},{"x":-3.9,"y":3},{"x":-3.8,"y":3},{"x":-3.7,"y":3},{"x":-3.6,"y":3},{"x":-3.5,"y":3},{"x":-3.4,"y":3},{"x":-3.3,"y":3},{"x":-3.2,"y":3},{"x":-3.1,"y":3},{"x":-3,"y":3},{"x":-2.9,"y":3},{"x":-2.8,"y":3},{"x":-2.7,"y":3},{"x":-2.6,"y":3},{"x":-2.5,"y":3},{"x":-2.4,"y":3},{"x":-2.3,"y":3},{"x":-2.2,"y":3},{"x":-2.1,"y":3},{"x":-2,"y":3},{"x":-1.9,"y":3},{"x":-1.8,"y":3},{"x":-1.7,"y":3},{"x":-1.6,"y":3},{"x":-1.5,"y":3},{"x":-1.4,"y":3},{"x":-1.3,"y":3},{"x":-1.2,"y":3},{"x":-1.1,"y":3},{"x":-1,"y":3},{"x":-0.9,"y":3},{"x":-0.8,"y":3},{"x":-0.7,"y":3},{"x":-0.6,"y":3},{"x":-0.5,"y":3},{"x":-0.4,"y":3},{"x":-0.3,"y":3},{"x":-0.2,"y":3},{"x":-0.1,"y":3},{"x":0,"y":3},{"x":0.1,"y":3},{"x":0.2,"y":3},{"x":0.3,"y":3},{"x":0.4,"y":3},{"x":0.5,"y":3},{"x":0.6,"y":3},{"x":0.7,"y":3},{"x":0.8,"y":3},{"x":0.9,"y":3},{"x":1,"y":3},{"x":1.1,"y":3},{"x":1.2,"y":3},{"x":1.3,"y":3},{"x":1.4,"y":3},{"x":1.5,"y":3},{"x":1.6,"y":3},{"x":1.7,"y":3},{"x":1.8,"y":3},{"x":1.9,"y":3},{"x":2,"y":3},{"x":2.1,"y":3},{"x":2.2,"y":3},{"x":2.3,"y":3},{"x":2.4,"y":3},{"x":2.5,"y":3},{"x":2.6,"y":3},{"x":2.7,"y":3},{"x":2.8,"y":3},{"x":2.9,"y":3},{"x":3,"y":3},{"x":3.1,"y":3},{"x":3.2,"y":3},{"x":3.3,"y":3},{"x":3.4,"y":3},{"x":3.5,"y":3},{"x":3.6,"y":3},{"x":3.7,"y":3},{"x":3.8,"y":3},{"x":3.9,"y":3},{"x":4,"y":3},{"x":4.1,"y":3},{"x":4.2,"y":3},{"x":4.3,"y":3},{"x":4.4,"y":3},{"x":4.5,"y":3},{"x":4.6,"y":3},{"x":4.7,"y":3},{"x":4.8,"y":3},{"x":4.9,"y":3},{"x":5,"y":3},{"x":5.1,"y":3},{"x":5.2,"y":3},{"x":5.3,"y":3},{"x":5.4,"y":3},{"x":5.5,"y":3},{"x":5.6,"y":3},{"x":5.7,"y":3},{"x":5.8,"y":3},{"x":5.9,"y":3},{"x":6,"y":3},
{"x":-6,"y":4},{"x":-5.9,"y":4},{"x":-5.8,"y":4},{"x":-5.7,"y":4},{"x":-5.6,"y":4},{"x":-5.5,"y":4},{"x":-5.4,"y":4},{"x":-5.3,"y":4},{"x":-5.2,"y":4},{"x":-5.1,"y":4},{"x":-5,"y":4},{"x":-4.9,"y":4},{"x":-4.8,"y":4},{"x":-4.7,"y":4},{"x":-4.6,"y":4},{"x":-4.5,"y":4},{"x":-4.4,"y":4},{"x":-4.3,"y":4},{"x":-4.2,"y":4},{"x":-4.1,"y":4},{"x":-4,"y":4},{"x":-3.9,"y":4},{"x":-3.8,"y":4},{"x":-3.7,"y":4},{"x":-3.6,"y":4},{"x":-3.5,"y":4},{"x":-3.4,"y":4},{"x":-3.3,"y":4},{"x":-3.2,"y":4},{"x":-3.1,"y":4},{"x":-3,"y":4},{"x":-2.9,"y":4},{"x":-2.8,"y":4},{"x":-2.7,"y":4},{"x":-2.6,"y":4},{"x":-2.5,"y":4},{"x":-2.4,"y":4},{"x":-2.3,"y":4},{"x":-2.2,"y":4},{"x":-2.1,"y":4},{"x":-2,"y":4},{"x":-1.9,"y":4},{"x":-1.8,"y":4},{"x":-1.7,"y":4},{"x":-1.6,"y":4},{"x":-1.5,"y":4},{"x":-1.4,"y":4},{"x":-1.3,"y":4},{"x":-1.2,"y":4},{"x":-1.1,"y":4},{"x":-1,"y":4},{"x":-0.9,"y":4},{"x":-0.8,"y":4},{"x":-0.7,"y":4},{"x":-0.6,"y":4},{"x":-0.5,"y":4},{"x":-0.4,"y":4},{"x":-0.3,"y":4},{"x":-0.2,"y":4},{"x":-0.1,"y":4},{"x":0,"y":4},{"x":0.1,"y":4},{"x":0.2,"y":4},{"x":0.3,"y":4},{"x":0.4,"y":4},{"x":0.5,"y":4},{"x":0.6,"y":4},{"x":0.7,"y":4},{"x":0.8,"y":4},{"x":0.9,"y":4},{"x":1,"y":4},{"x":1.1,"y":4},{"x":1.2,"y":4},{"x":1.3,"y":4},{"x":1.4,"y":4},{"x":1.5,"y":4},{"x":1.6,"y":4},{"x":1.7,"y":4},{"x":1.8,"y":4},{"x":1.9,"y":4},{"x":2,"y":4},{"x":2.1,"y":4},{"x":2.2,"y":4},{"x":2.3,"y":4},{"x":2.4,"y":4},{"x":2.5,"y":4},{"x":2.6,"y":4},{"x":2.7,"y":4},{"x":2.8,"y":4},{"x":2.9,"y":4},{"x":3,"y":4},{"x":3.1,"y":4},{"x":3.2,"y":4},{"x":3.3,"y":4},{"x":3.4,"y":4},{"x":3.5,"y":4},{"x":3.6,"y":4},{"x":3.7,"y":4},{"x":3.8,"y":4},{"x":3.9,"y":4},{"x":4,"y":4},{"x":4.1,"y":4},{"x":4.2,"y":4},{"x":4.3,"y":4},{"x":4.4,"y":4},{"x":4.5,"y":4},{"x":4.6,"y":4},{"x":4.7,"y":4},{"x":4.8,"y":4},{"x":4.9,"y":4},{"x":5,"y":4},{"x":5.1,"y":4},{"x":5.2,"y":4},{"x":5.3,"y":4},{"x":5.4,"y":4},{"x":5.5,"y":4},{"x":5.6,"y":4},{"x":5.7,"y":4},{"x":5.8,"y":4},{"x":5.9,"y":4},{"x":6,"y":4},
{"x":-6,"y":5},{"x":-5.9,"y":5},{"x":-5.8,"y":5},{"x":-5.7,"y":5},{"x":-5.6,"y":5},{"x":-5.5,"y":5},{"x":-5.4,"y":5},{"x":-5.3,"y":5},{"x":-5.2,"y":5},{"x":-5.1,"y":5},{"x":-5,"y":5},{"x":-4.9,"y":5},{"x":-4.8,"y":5},{"x":-4.7,"y":5},{"x":-4.6,"y":5},{"x":-4.5,"y":5},{"x":-4.4,"y":5},{"x":-4.3,"y":5},{"x":-4.2,"y":5},{"x":-4.1,"y":5},{"x":-4,"y":5},{"x":-3.9,"y":5},{"x":-3.8,"y":5},{"x":-3.7,"y":5},{"x":-3.6,"y":5},{"x":-3.5,"y":5},{"x":-3.4,"y":5},{"x":-3.3,"y":5},{"x":-3.2,"y":5},{"x":-3.1,"y":5},{"x":-3,"y":5},{"x":-2.9,"y":5},{"x":-2.8,"y":5},{"x":-2.7,"y":5},{"x":-2.6,"y":5},{"x":-2.5,"y":5},{"x":-2.4,"y":5},{"x":-2.3,"y":5},{"x":-2.2,"y":5},{"x":-2.1,"y":5},{"x":-2,"y":5},{"x":-1.9,"y":5},{"x":-1.8,"y":5},{"x":-1.7,"y":5},{"x":-1.6,"y":5},{"x":-1.5,"y":5},{"x":-1.4,"y":5},{"x":-1.3,"y":5},{"x":-1.2,"y":5},{"x":-1.1,"y":5},{"x":-1,"y":5},{"x":-0.9,"y":5},{"x":-0.8,"y":5},{"x":-0.7,"y":5},{"x":-0.6,"y":5},{"x":-0.5,"y":5},{"x":-0.4,"y":5},{"x":-0.3,"y":5},{"x":-0.2,"y":5},{"x":-0.1,"y":5},{"x":0,"y":5},{"x":0.1,"y":5},{"x":0.2,"y":5},{"x":0.3,"y":5},{"x":0.4,"y":5},{"x":0.5,"y":5},{"x":0.6,"y":5},{"x":0.7,"y":5},{"x":0.8,"y":5},{"x":0.9,"y":5},{"x":1,"y":5},{"x":1.1,"y":5},{"x":1.2,"y":5},{"x":1.3,"y":5},{"x":1.4,"y":5},{"x":1.5,"y":5},{"x":1.6,"y":5},{"x":1.7,"y":5},{"x":1.8,"y":5},{"x":1.9,"y":5},{"x":2,"y":5},{"x":2.1,"y":5},{"x":2.2,"y":5},{"x":2.3,"y":5},{"x":2.4,"y":5},{"x":2.5,"y":5},{"x":2.6,"y":5},{"x":2.7,"y":5},{"x":2.8,"y":5},{"x":2.9,"y":5},{"x":3,"y":5},{"x":3.1,"y":5},{"x":3.2,"y":5},{"x":3.3,"y":5},{"x":3.4,"y":5},{"x":3.5,"y":5},{"x":3.6,"y":5},{"x":3.7,"y":5},{"x":3.8,"y":5},{"x":3.9,"y":5},{"x":4,"y":5},{"x":4.1,"y":5},{"x":4.2,"y":5},{"x":4.3,"y":5},{"x":4.4,"y":5},{"x":4.5,"y":5},{"x":4.6,"y":5},{"x":4.7,"y":5},{"x":4.8,"y":5},{"x":4.9,"y":5},{"x":5,"y":5},{"x":5.1,"y":5},{"x":5.2,"y":5},{"x":5.3,"y":5},{"x":5.4,"y":5},{"x":5.5,"y":5},{"x":5.6,"y":5},{"x":5.7,"y":5},{"x":5.8,"y":5},{"x":5.9,"y":5},{"x":6,"y":5},
{"x":-6,"y":6},{"x":-5.9,"y":6},{"x":-5.8,"y":6},{"x":-5.7,"y":6},{"x":-5.6,"y":6},{"x":-5.5,"y":6},{"x":-5.4,"y":6},{"x":-5.3,"y":6},{"x":-5.2,"y":6},{"x":-5.1,"y":6},{"x":-5,"y":6},{"x":-4.9,"y":6},{"x":-4.8,"y":6},{"x":-4.7,"y":6},{"x":-4.6,"y":6},{"x":-4.5,"y":6},{"x":-4.4,"y":6},{"x":-4.3,"y":6},{"x":-4.2,"y":6},{"x":-4.1,"y":6},{"x":-4,"y":6},{"x":-3.9,"y":6},{"x":-3.8,"y":6},{"x":-3.7,"y":6},{"x":-3.6,"y":6},{"x":-3.5,"y":6},{"x":-3.4,"y":6},{"x":-3.3,"y":6},{"x":-3.2,"y":6},{"x":-3.1,"y":6},{"x":-3,"y":6},{"x":-2.9,"y":6},{"x":-2.8,"y":6},{"x":-2.7,"y":6},{"x":-2.6,"y":6},{"x":-2.5,"y":6},{"x":-2.4,"y":6},{"x":-2.3,"y":6},{"x":-2.2,"y":6},{"x":-2.1,"y":6},{"x":-2,"y":6},{"x":-1.9,"y":6},{"x":-1.8,"y":6},{"x":-1.7,"y":6},{"x":-1.6,"y":6},{"x":-1.5,"y":6},{"x":-1.4,"y":6},{"x":-1.3,"y":6},{"x":-1.2,"y":6},{"x":-1.1,"y":6},{"x":-1,"y":6},{"x":-0.9,"y":6},{"x":-0.8,"y":6},{"x":-0.7,"y":6},{"x":-0.6,"y":6},{"x":-0.5,"y":6},{"x":-0.4,"y":6},{"x":-0.3,"y":6},{"x":-0.2,"y":6},{"x":-0.1,"y":6},{"x":0,"y":6},{"x":0.1,"y":6},{"x":0.2,"y":6},{"x":0.3,"y":6},{"x":0.4,"y":6},{"x":0.5,"y":6},{"x":0.6,"y":6},{"x":0.7,"y":6},{"x":0.8,"y":6},{"x":0.9,"y":6},{"x":1,"y":6},{"x":1.1,"y":6},{"x":1.2,"y":6},{"x":1.3,"y":6},{"x":1.4,"y":6},{"x":1.5,"y":6},{"x":1.6,"y":6},{"x":1.7,"y":6},{"x":1.8,"y":6},{"x":1.9,"y":6},{"x":2,"y":6},{"x":2.1,"y":6},{"x":2.2,"y":6},{"x":2.3,"y":6},{"x":2.4,"y":6},{"x":2.5,"y":6},{"x":2.6,"y":6},{"x":2.7,"y":6},{"x":2.8,"y":6},{"x":2.9,"y":6},{"x":3,"y":6},{"x":3.1,"y":6},{"x":3.2,"y":6},{"x":3.3,"y":6},{"x":3.4,"y":6},{"x":3.5,"y":6},{"x":3.6,"y":6},{"x":3.7,"y":6},{"x":3.8,"y":6},{"x":3.9,"y":6},{"x":4,"y":6},{"x":4.1,"y":6},{"x":4.2,"y":6},{"x":4.3,"y":6},{"x":4.4,"y":6},{"x":4.5,"y":6},{"x":4.6,"y":6},{"x":4.7,"y":6},{"x":4.8,"y":6},{"x":4.9,"y":6},{"x":5,"y":6},{"x":5.1,"y":6},{"x":5.2,"y":6},{"x":5.3,"y":6},{"x":5.4,"y":6},{"x":5.5,"y":6},{"x":5.6,"y":6},{"x":5.7,"y":6},{"x":5.8,"y":6},{"x":5.9,"y":6},{"x":6,"y":6},
{"x":-6,"y":7},{"x":-5.9,"y":7},{"x":-5.8,"y":7},{"x":-5.7,"y":7},{"x":-5.6,"y":7},{"x":-5.5,"y":7},{"x":-5.4,"y":7},{"x":-5.3,"y":7},{"x":-5.2,"y":7},{"x":-5.1,"y":7},{"x":-5,"y":7},{"x":-4.9,"y":7},{"x":-4.8,"y":7},{"x":-4.7,"y":7},{"x":-4.6,"y":7},{"x":-4.5,"y":7},{"x":-4.4,"y":7},{"x":-4.3,"y":7},{"x":-4.2,"y":7},{"x":-4.1,"y":7},{"x":-4,"y":7},{"x":-3.9,"y":7},{"x":-3.8,"y":7},{"x":-3.7,"y":7},{"x":-3.6,"y":7},{"x":-3.5,"y":7},{"x":-3.4,"y":7},{"x":-3.3,"y":7},{"x":-3.2,"y":7},{"x":-3.1,"y":7},{"x":-3,"y":7},{"x":-2.9,"y":7},{"x":-2.8,"y":7},{"x":-2.7,"y":7},{"x":-2.6,"y":7},{"x":-2.5,"y":7},{"x":-2.4,"y":7},{"x":-2.3,"y":7},{"x":-2.2,"y":7},{"x":-2.1,"y":7},{"x":-2,"y":7},{"x":-1.9,"y":7},{"x":-1.8,"y":7},{"x":-1.7,"y":7},{"x":-1.6,"y":7},{"x":-1.5,"y":7},{"x":-1.4,"y":7},{"x":-1.3,"y":7},{"x":-1.2,"y":7},{"x":-1.1,"y":7},{"x":-1,"y":7},{"x":-0.9,"y":7},{"x":-0.8,"y":7},{"x":-0.7,"y":7},{"x":-0.6,"y":7},{"x":-0.5,"y":7},{"x":-0.4,"y":7},{"x":-0.3,"y":7},{"x":-0.2,"y":7},{"x":-0.1,"y":7},{"x":0,"y":7},{"x":0.1,"y":7},{"x":0.2,"y":7},{"x":0.3,"y":7},{"x":0.4,"y":7},{"x":0.5,"y":7},{"x":0.6,"y":7},{"x":0.7,"y":7},{"x":0.8,"y":7},{"x":0.9,"y":7},{"x":1,"y":7},{"x":1.1,"y":7},{"x":1.2,"y":7},{"x":1.3,"y":7},{"x":1.4,"y":7},{"x":1.5,"y":7},{"x":1.6,"y":7},{"x":1.7,"y":7},{"x":1.8,"y":7},{"x":1.9,"y":7},{"x":2,"y":7},{"x":2.1,"y":7},{"x":2.2,"y":7},{"x":2.3,"y":7},{"x":2.4,"y":7},{"x":2.5,"y":7},{"x":2.6,"y":7},{"x":2.7,"y":7},{"x":2.8,"y":7},{"x":2.9,"y":7},{"x":3,"y":7},{"x":3.1,"y":7},{"x":3.2,"y":7},{"x":3.3,"y":7},{"x":3.4,"y":7},{"x":3.5,"y":7},{"x":3.6,"y":7},{"x":3.7,"y":7},{"x":3.8,"y":7},{"x":3.9,"y":7},{"x":4,"y":7},{"x":4.1,"y":7},{"x":4.2,"y":7},{"x":4.3,"y":7},{"x":4.4,"y":7},{"x":4.5,"y":7},{"x":4.6,"y":7},{"x":4.7,"y":7},{"x":4.8,"y":7},{"x":4.9,"y":7},{"x":5,"y":7},{"x":5.1,"y":7},{"x":5.2,"y":7},{"x":5.3,"y":7},{"x":5.4,"y":7},{"x":5.5,"y":7},{"x":5.6,"y":7},{"x":5.7,"y":7},{"x":5.8,"y":7},{"x":5.9,"y":7},{"x":6,"y":7},
{"x":-6,"y":8},{"x":-5.9,"y":8},{"x":-5.8,"y":8},{"x":-5.7,"y":8},{"x":-5.6,"y":8},{"x":-5.5,"y":8},{"x":-5.4,"y":8},{"x":-5.3,"y":8},{"x":-5.2,"y":8},{"x":-5.1,"y":8},{"x":-5,"y":8},{"x":-4.9,"y":8},{"x":-4.8,"y":8},{"x":-4.7,"y":8},{"x":-4.6,"y":8},{"x":-4.5,"y":8},{"x":-4.4,"y":8},{"x":-4.3,"y":8},{"x":-4.2,"y":8},{"x":-4.1,"y":8},{"x":-4,"y":8},{"x":-3.9,"y":8},{"x":-3.8,"y":8},{"x":-3.7,"y":8},{"x":-3.6,"y":8},{"x":-3.5,"y":8},{"x":-3.4,"y":8},{"x":-3.3,"y":8},{"x":-3.2,"y":8},{"x":-3.1,"y":8},{"x":-3,"y":8},{"x":-2.9,"y":8},{"x":-2.8,"y":8},{"x":-2.7,"y":8},{"x":-2.6,"y":8},{"x":-2.5,"y":8},{"x":-2.4,"y":8},{"x":-2.3,"y":8},{"x":-2.2,"y":8},{"x":-2.1,"y":8},{"x":-2,"y":8},{"x":-1.9,"y":8},{"x":-1.8,"y":8},{"x":-1.7,"y":8},{"x":-1.6,"y":8},{"x":-1.5,"y":8},{"x":-1.4,"y":8},{"x":-1.3,"y":8},{"x":-1.2,"y":8},{"x":-1.1,"y":8},{"x":-1,"y":8},{"x":-0.9,"y":8},{"x":-0.8,"y":8},{"x":-0.7,"y":8},{"x":-0.6,"y":8},{"x":-0.5,"y":8},{"x":-0.4,"y":8},{"x":-0.3,"y":8},{"x":-0.2,"y":8},{"x":-0.1,"y":8},{"x":0,"y":8},{"x":0.1,"y":8},{"x":0.2,"y":8},{"x":0.3,"y":8},{"x":0.4,"y":8},{"x":0.5,"y":8},{"x":0.6,"y":8},{"x":0.7,"y":8},{"x":0.8,"y":8},{"x":0.9,"y":8},{"x":1,"y":8},{"x":1.1,"y":8},{"x":1.2,"y":8},{"x":1.3,"y":8},{"x":1.4,"y":8},{"x":1.5,"y":8},{"x":1.6,"y":8},{"x":1.7,"y":8},{"x":1.8,"y":8},{"x":1.9,"y":8},{"x":2,"y":8},{"x":2.1,"y":8},{"x":2.2,"y":8},{"x":2.3,"y":8},{"x":2.4,"y":8},{"x":2.5,"y":8},{"x":2.6,"y":8},{"x":2.7,"y":8},{"x":2.8,"y":8},{"x":2.9,"y":8},{"x":3,"y":8},{"x":3.1,"y":8},{"x":3.2,"y":8},{"x":3.3,"y":8},{"x":3.4,"y":8},{"x":3.5,"y":8},{"x":3.6,"y":8},{"x":3.7,"y":8},{"x":3.8,"y":8},{"x":3.9,"y":8},{"x":4,"y":8},{"x":4.1,"y":8},{"x":4.2,"y":8},{"x":4.3,"y":8},{"x":4.4,"y":8},{"x":4.5,"y":8},{"x":4.6,"y":8},{"x":4.7,"y":8},{"x":4.8,"y":8},{"x":4.9,"y":8},{"x":5,"y":8},{"x":5.1,"y":8},{"x":5.2,"y":8},{"x":5.3,"y":8},{"x":5.4,"y":8},{"x":5.5,"y":8},{"x":5.6,"y":8},{"x":5.7,"y":8},{"x":5.8,"y":8},{"x":5.9,"y":8},{"x":6,"y":8},
{"x":-6,"y":9},{"x":-5.9,"y":9},{"x":-5.8,"y":9},{"x":-5.7,"y":9},{"x":-5.6,"y":9},{"x":-5.5,"y":9},{"x":-5.4,"y":9},{"x":-5.3,"y":9},{"x":-5.2,"y":9},{"x":-5.1,"y":9},{"x":-5,"y":9},{"x":-4.9,"y":9},{"x":-4.8,"y":9},{"x":-4.7,"y":9},{"x":-4.6,"y":9},{"x":-4.5,"y":9},{"x":-4.4,"y":9},{"x":-4.3,"y":9},{"x":-4.2,"y":9},{"x":-4.1,"y":9},{"x":-4,"y":9},{"x":-3.9,"y":9},{"x":-3.8,"y":9},{"x":-3.7,"y":9},{"x":-3.6,"y":9},{"x":-3.5,"y":9},{"x":-3.4,"y":9},{"x":-3.3,"y":9},{"x":-3.2,"y":9},{"x":-3.1,"y":9},{"x":-3,"y":9},{"x":-2.9,"y":9},{"x":-2.8,"y":9},{"x":-2.7,"y":9},{"x":-2.6,"y":9},{"x":-2.5,"y":9},{"x":-2.4,"y":9},{"x":-2.3,"y":9},{"x":-2.2,"y":9},{"x":-2.1,"y":9},{"x":-2,"y":9},{"x":-1.9,"y":9},{"x":-1.8,"y":9},{"x":-1.7,"y":9},{"x":-1.6,"y":9},{"x":-1.5,"y":9},{"x":-1.4,"y":9},{"x":-1.3,"y":9},{"x":-1.2,"y":9},{"x":-1.1,"y":9},{"x":-1,"y":9},{"x":-0.9,"y":9},{"x":-0.8,"y":9},{"x":-0.7,"y":9},{"x":-0.6,"y":9},{"x":-0.5,"y":9},{"x":-0.4,"y":9},{"x":-0.3,"y":9},{"x":-0.2,"y":9},{"x":-0.1,"y":9},{"x":0,"y":9},{"x":0.1,"y":9},{"x":0.2,"y":9},{"x":0.3,"y":9},{"x":0.4,"y":9},{"x":0.5,"y":9},{"x":0.6,"y":9},{"x":0.7,"y":9},{"x":0.8,"y":9},{"x":0.9,"y":9},{"x":1,"y":9},{"x":1.1,"y":9},{"x":1.2,"y":9},{"x":1.3,"y":9},{"x":1.4,"y":9},{"x":1.5,"y":9},{"x":1.6,"y":9},{"x":1.7,"y":9},{"x":1.8,"y":9},{"x":1.9,"y":9},{"x":2,"y":9},{"x":2.1,"y":9},{"x":2.2,"y":9},{"x":2.3,"y":9},{"x":2.4,"y":9},{"x":2.5,"y":9},{"x":2.6,"y":9},{"x":2.7,"y":9},{"x":2.8,"y":9},{"x":2.9,"y":9},{"x":3,"y":9},{"x":3.1,"y":9},{"x":3.2,"y":9},{"x":3.3,"y":9},{"x":3.4,"y":9},{"x":3.5,"y":9},{"x":3.6,"y":9},{"x":3.7,"y":9},{"x":3.8,"y":9},{"x":3.9,"y":9},{"x":4,"y":9},{"x":4.1,"y":9},{"x":4.2,"y":9},{"x":4.3,"y":9},{"x":4.4,"y":9},{"x":4.5,"y":9},{"x":4.6,"y":9},{"x":4.7,"y":9},{"x":4.8,"y":9},{"x":4.9,"y":9},{"x":5,"y":9},{"x":5.1,"y":9},{"x":5.2,"y":9},{"x":5.3,"y":9},{"x":5.4,"y":9},{"x":5.5,"y":9},{"x":5.6,"y":9},{"x":5.7,"y":9},{"x":5.8,"y":9},{"x":5.9,"y":9},{"x":6,"y":9},
{"x":-6,"y":10},{"x":-5.9,"y":10},{"x":-5.8,"y":10},{"x":-5.7,"y":10},{"x":-5.6,"y":10},{"x":-5.5,"y":10},{"x":-5.4,"y":10},{"x":-5.3,"y":10},{"x":-5.2,"y":10},{"x":-5.1,"y":10},{"x":-5,"y":10},{"x":-4.9,"y":10},{"x":-4.8,"y":10},{"x":-4.7,"y":10},{"x":-4.6,"y":10},{"x":-4.5,"y":10},{"x":-4.4,"y":10},{"x":-4.3,"y":10},{"x":-4.2,"y":10},{"x":-4.1,"y":10},{"x":-4,"y":10},{"x":-3.9,"y":10},{"x":-3.8,"y":10},{"x":-3.7,"y":10},{"x":-3.6,"y":10},{"x":-3.5,"y":10},{"x":-3.4,"y":10},{"x":-3.3,"y":10},{"x":-3.2,"y":10},{"x":-3.1,"y":10},{"x":-3,"y":10},{"x":-2.9,"y":10},{"x":-2.8,"y":10},{"x":-2.7,"y":10},{"x":-2.6,"y":10},{"x":-2.5,"y":10},{"x":-2.4,"y":10},{"x":-2.3,"y":10},{"x":-2.2,"y":10},{"x":-2.1,"y":10},{"x":-2,"y":10},{"x":-1.9,"y":10},{"x":-1.8,"y":10},{"x":-1.7,"y":10},{"x":-1.6,"y":10},{"x":-1.5,"y":10},{"x":-1.4,"y":10},{"x":-1.3,"y":10},{"x":-1.2,"y":10},{"x":-1.1,"y":10},{"x":-1,"y":10},{"x":-0.9,"y":10},{"x":-0.8,"y":10},{"x":-0.7,"y":10},{"x":-0.6,"y":10},{"x":-0.5,"y":10},{"x":-0.4,"y":10},{"x":-0.3,"y":10},{"x":-0.2,"y":10},{"x":-0.1,"y":10},{"x":0,"y":10},{"x":0.1,"y":10},{"x":0.2,"y":10},{"x":0.3,"y":10},{"x":0.4,"y":10},{"x":0.5,"y":10},{"x":0.6,"y":10},{"x":0.7,"y":10},{"x":0.8,"y":10},{"x":0.9,"y":10},{"x":1,"y":10},{"x":1.1,"y":10},{"x":1.2,"y":10},{"x":1.3,"y":10},{"x":1.4,"y":10},{"x":1.5,"y":10},{"x":1.6,"y":10},{"x":1.7,"y":10},{"x":1.8,"y":10},{"x":1.9,"y":10},{"x":2,"y":10},{"x":2.1,"y":10},{"x":2.2,"y":10},{"x":2.3,"y":10},{"x":2.4,"y":10},{"x":2.5,"y":10},{"x":2.6,"y":10},{"x":2.7,"y":10},{"x":2.8,"y":10},{"x":2.9,"y":10},{"x":3,"y":10},{"x":3.1,"y":10},{"x":3.2,"y":10},{"x":3.3,"y":10},{"x":3.4,"y":10},{"x":3.5,"y":10},{"x":3.6,"y":10},{"x":3.7,"y":10},{"x":3.8,"y":10},{"x":3.9,"y":10},{"x":4,"y":10},{"x":4.1,"y":10},{"x":4.2,"y":10},{"x":4.3,"y":10},{"x":4.4,"y":10},{"x":4.5,"y":10},{"x":4.6,"y":10},{"x":4.7,"y":10},{"x":4.8,"y":10},{"x":4.9,"y":10},{"x":5,"y":10},{"x":5.1,"y":10},{"x":5.2,"y":10},{"x":5.3,"y":10},{"x":5.4,"y":10},{"x":5.5,"y":10},{"x":5.6,"y":10},{"x":5.7,"y":10},{"x":5.8,"y":10},{"x":5.9,"y":10},{"x":6,"y":10}
]
},
"hconcat":[
{
"title":"(a) Sobol-2D QMC sequence",
"width":434,"height":307,
"data":{"name":"sobol"},
"mark":{"type":"circle","size":28,"color":"#1f77b4","opacity":1},
"encoding":{
"x":{"field":"x","type":"quantitative","scale":{"domain":[-6.6,6.6],"nice":false,"zero":false},"axis":{"values":[-5,0,5],"title":"Residual demand"}},
"y":{"field":"y","type":"quantitative","scale":{"domain":[-0.5,10.5],"nice":false,"zero":false},"axis":{"values":[0,2,4,6,8,10],"title":"Inventory"}}
}
},
{
"title":{"text":"(b) Gridded design","offset":18},
"width":423,"height":305,
"view":{"stroke":null},
"data":{"name":"grid"},
"layer":[
{
"mark":{"type":"circle","size":28,"color":"#1f77b4","opacity":1},
"encoding":{
"x":{"field":"x","type":"quantitative","scale":{"domain":[-6.6,6.25],"nice":false,"zero":false},"axis":{"values":[-5,0,5],"title":"Residual demand","domain":true,"domainColor":"#000","domainWidth":1.2}},
"y":{"field":"y","type":"quantitative","scale":{"domain":[-0.5,10.5],"nice":false,"zero":false},"axis":{"values":[0,2,4,6,8,10],"title":"Inventory","domain":true,"domainColor":"#000","domainWidth":1.2}}
}
},
{
"mark":{"type":"circle","opacity":0},
"encoding":{
"x":{"field":"x","type":"quantitative","axis":{"orient":"top","labels":false,"ticks":false,"title":null,"domain":true,"domainColor":"#000","domainWidth":1.2}}
}
}
],
"resolve":{"axis":{"x":"independent"}}
}
]
}
